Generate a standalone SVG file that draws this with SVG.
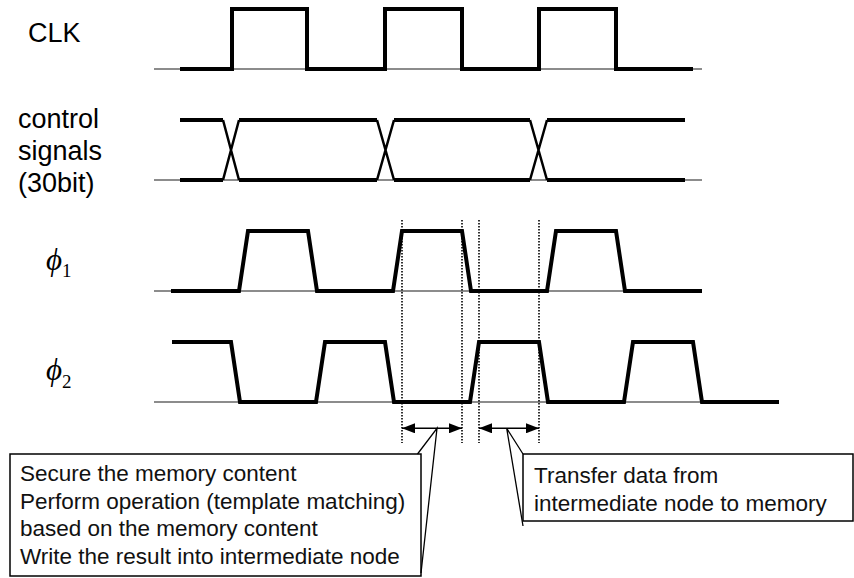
<svg xmlns="http://www.w3.org/2000/svg" width="854" height="578" viewBox="0 0 854 578">
<style>
.lbl{font-family:"Liberation Sans",Arial,Helvetica,sans-serif;font-size:27px;fill:#000}
.phi{font-family:"Liberation Serif","DejaVu Serif",serif;font-size:31px;font-style:italic;fill:#000}
.sub{font-style:normal;font-size:19px}
.txt{font-family:"Liberation Sans",Arial,Helvetica,sans-serif;font-size:22.5px;fill:#111}
.base{stroke:#666;stroke-width:1.5;fill:none}
.wave{stroke:#000;stroke-width:4;fill:none;stroke-linejoin:miter;stroke-linecap:butt}
.xing{stroke:#000;stroke-width:2.5;fill:none}
.dot{stroke:#000;stroke-width:1.6;stroke-dasharray:1.6 1.4;fill:none}
.box{stroke:#000;stroke-width:1.5;fill:#fff}
.ptr{stroke:#000;stroke-width:1.3;fill:none}
.arr{stroke:#000;stroke-width:1.5;fill:none;marker-start:url(#ah);marker-end:url(#ah)}
</style>
<defs>
<marker id="ah" viewBox="0 0 13 10" refX="13" refY="5" markerWidth="13" markerHeight="10" markerUnits="userSpaceOnUse" orient="auto-start-reverse">
<path d="M0,0 L13,5 L0,10 Z" fill="#000"/>
</marker>
</defs>
<rect width="854" height="578" fill="#fff"/>

<g id="clk">
<text class="lbl" x="28" y="42">CLK</text>
<line class="base" x1="154" y1="69" x2="702" y2="69"/>
<path class="wave" d="M180,69 H232 V9 H307 V69 H385 V9 H462 V69 H539 V9 H616 V69 H693"/>
</g>

<g id="control">
<text class="lbl" x="18" y="128">control</text>
<text class="lbl" x="18" y="160">signals</text>
<text class="lbl" x="18" y="192">(30bit)</text>
<line class="base" x1="154" y1="180" x2="702" y2="180"/>
<path class="wave" d="M180,120 H223 M239,120 H377 M394,120 H530 M547,120 H685"/>
<path class="wave" d="M180,180 H223 M239,180 H377 M394,180 H530 M547,180 H685"/>
<path class="xing" d="M223,120 L239,180 M223,180 L239,120 M377,120 L394,180 M377,180 L394,120 M530,120 L547,180 M530,180 L547,120"/>
</g>

<g id="phi1">
<text class="phi" x="46" y="270">ϕ<tspan class="sub" dy="7">1</tspan></text>
<line class="base" x1="154" y1="291" x2="702" y2="291"/>
<path class="wave" d="M171,291 H239 L248,231 H308 L317,291 H393 L402,231 H462 L471,291 H547 L556,231 H616 L625,291 H702"/>
</g>

<g id="phi2">
<text class="phi" x="46" y="380">ϕ<tspan class="sub" dy="8">2</tspan></text>
<line class="base" x1="154" y1="402" x2="779" y2="402"/>
<path class="wave" d="M172,342 H231 L240,402 H316 L325,342 H385 L394,402 H470 L479,342 H539 L548,402 H624 L633,342 H693 L702,402 H779"/>
</g>

<g id="markers">
<line class="dot" x1="402" y1="220" x2="402" y2="443"/>
<line class="dot" x1="462" y1="220" x2="462" y2="443"/>
<line class="dot" x1="479" y1="220" x2="479" y2="443"/>
<line class="dot" x1="539" y1="220" x2="539" y2="443"/>
</g>

<g id="callout1">
<rect class="box" x="10" y="454" width="411" height="122"/>
<text class="txt" x="20" y="481">Secure the memory content</text>
<text class="txt" x="20" y="508.5">Perform operation (template matching)</text>
<text class="txt" x="20" y="536">based on the memory content</text>
<text class="txt" x="20" y="563.5">Write the result into intermediate node</text>
</g>

<g id="callout2">
<rect class="box" x="523" y="454" width="330" height="67"/>
<text class="txt" x="534" y="483">Transfer data from</text>
<text class="txt" x="534" y="510.5">intermediate node to memory</text>
</g>

<g id="connectors">
<line class="arr" x1="402" y1="428.3" x2="462" y2="428.3"/>
<line class="arr" x1="479" y1="428.3" x2="539" y2="428.3"/>
<path class="ptr" d="M417.5,454 L437,428.3 L421,573"/>
<path class="ptr" d="M523,454 L506.7,428.3 L523,526"/>
</g>
</svg>
